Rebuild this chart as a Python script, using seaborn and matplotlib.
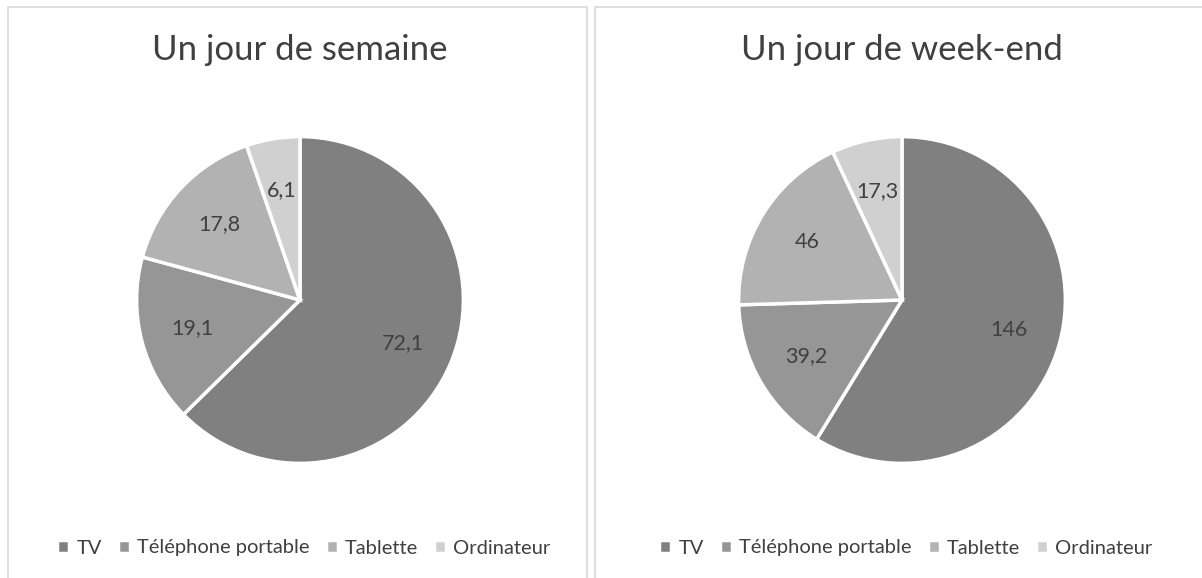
import seaborn as sns
import matplotlib.pyplot as plt
from matplotlib.patches import Rectangle

sns.set_theme(style="white")
plt.rcParams['font.family'] = ['Lato', 'DejaVu Sans']

categories = ["TV", "Téléphone portable", "Tablette", "Ordinateur"]
semaine = [72.1, 19.1, 17.8, 6.1]
weekend = [146, 39.2, 46, 17.3]
titles = ["Un jour de semaine", "Un jour de week-end"]
colors = ["#808080", "#969696", "#b2b2b2", "#d0d0d0"]
txt = "#404040"

W, H = 1202, 578
fig = plt.figure(figsize=(W / 100, H / 100), dpi=100)

# panel frames (cropped at the bottom / right like the screenshot)
for x0, x1 in [(8, 587), (595, 1230)]:
    fig.patches.append(Rectangle((x0 / W, -0.1), (x1 - x0) / W, 1.1 - 7 / H,
                                 transform=fig.transFigure, fill=False,
                                 edgecolor="#d9d9d9", lw=1.2))

def fmt(v):
    s = f"{v:g}"
    return s.replace(".", ",")

r = 165
for cx, vals, title in [(300, semaine, titles[0]), (902, weekend, titles[1])]:
    cy = 278
    ax = fig.add_axes([(cx - r) / W, (cy - r) / H, 2 * r / W, 2 * r / H])
    wedges, texts = ax.pie(vals, colors=colors, startangle=90, counterclock=False,
                           labels=[fmt(v) for v in vals], labeldistance=0.68,
                           wedgeprops=dict(edgecolor="white", linewidth=2.5),
                           textprops=dict(color=txt, fontsize=15.5))
    for t in texts:
        t.set_ha("center")
        t.set_va("center")
    ax.set_xlim(-1.01, 1.01)
    ax.set_ylim(-1.01, 1.01)
    fig.text(cx / W, 1 - 50 / H, title, ha="center", va="center",
             fontsize=25, color=txt)
    fig.legend(wedges, categories, loc="center", bbox_to_anchor=(cx / W + 4 / W, 1 - 548 / H),
               ncol=4, frameon=False, fontsize=14.5, labelcolor=txt,
               handlelength=0.6, handleheight=0.6, handletextpad=0.35,
               columnspacing=0.8)

fig.savefig("out.png", dpi=100)
